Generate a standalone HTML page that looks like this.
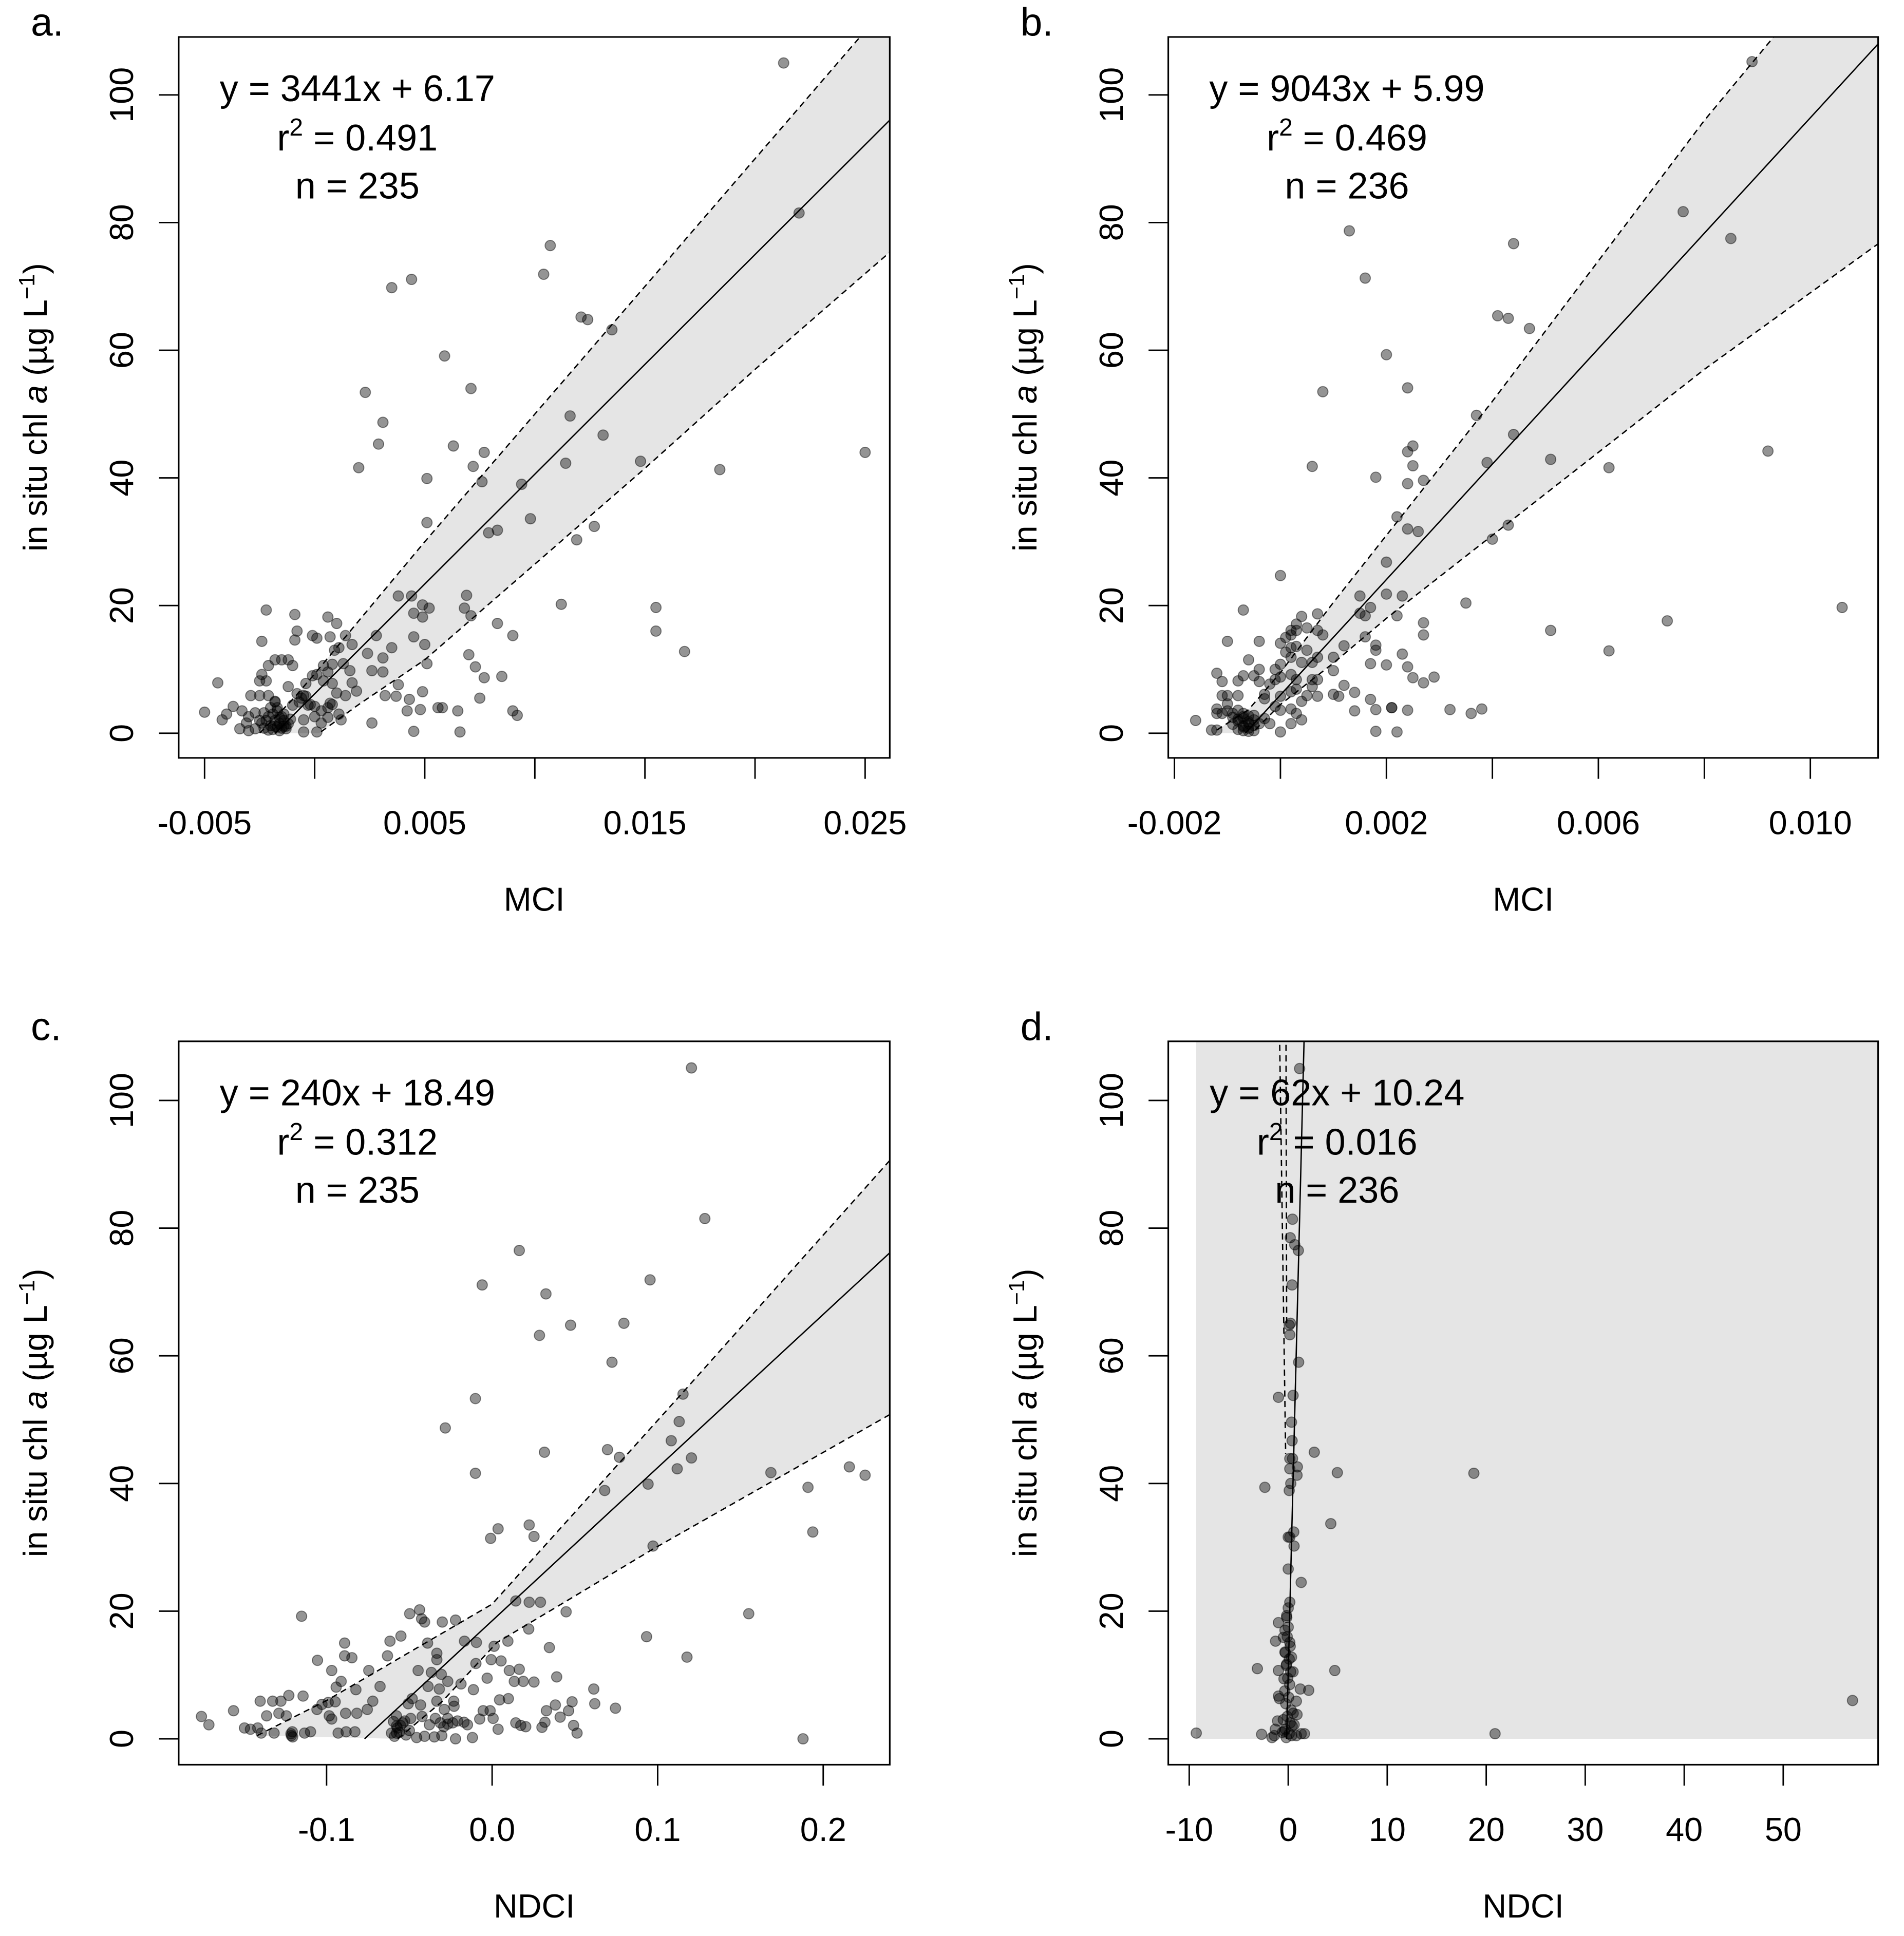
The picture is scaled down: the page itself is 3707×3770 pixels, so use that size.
<!DOCTYPE html>
<html><head><meta charset="utf-8"><style>
html,body{margin:0;padding:0;background:#fff;width:3707px;height:3770px;overflow:hidden}
svg{display:block}
text{font-family:"Liberation Sans",Arial,sans-serif;fill:#000}
</style></head><body>
<svg id="fig" xmlns="http://www.w3.org/2000/svg" width="3707" height="3770" viewBox="0 0 1545 1571" preserveAspectRatio="none" overflow="hidden">
<rect x="0" y="0" width="1545" height="1571" fill="#fff"/>
</svg>
<script>
// ---------- Panel a data (MCI vs chl a) ----------
const aX = [0.0213,0.0220,0.0250,0.0184,0.0148,0.0155,0.0155,0.0168,0.0107,0.0104,0.0121,0.0124,0.0135,0.0116,0.0131,0.0114,0.0119,0.0127,0.0112,0.0094,0.0098,0.0083,0.0079,0.0076,0.0077,0.0072,0.0071,0.0063,0.0059,0.0051,0.0051,0.0044,0.0035,0.0023,0.0031,0.0029,0.0020,0.0069,0.0068,0.0071,0.0083,0.0090,0.0085,0.0077,0.0073,0.0070,0.0075,0.0065,0.0058,0.0056,0.0066,0.0090,0.0092,0.0049,0.0051,0.0050,0.0045,0.0049,0.0052,0.0049,0.0045,0.0044,0.0038,0.0048,0.0042,0.0043,0.0045,0.0038,0.0037,0.0032,0.0035,0.0031,0.0031,0.0028,0.0026,0.0026,0.0024,0.0019,0.0017,0.0016,0.0014,0.0017,0.0010,0.0006,0.0007,0.0009,0.0011,0.0013,0.0008,0.0006,0.0004,0.0004,0.0008,0.0010,0.0014,0.0011,0.0012,0.0006,0.0007,0.0003,0.0001,0.0000,-0.0001,0.0001,0.0001,-0.0001,-0.0004,-0.0005,-0.0007,-0.0003,-0.0005,-0.0005,-0.0008,-0.0009,-0.0009,-0.0010,-0.0012,-0.0012,-0.0010,-0.0014,-0.0013,-0.0015,-0.0018,-0.0021,-0.0022,-0.0024,-0.0022,-0.0024,-0.0025,-0.0029,-0.0025,-0.0021,-0.0018,-0.0017,-0.0015,-0.0014,-0.0018,-0.0021,-0.0023,-0.0024,-0.0027,-0.0030,-0.0031,-0.0034,-0.0033,-0.0037,-0.0040,-0.0042,-0.0044,-0.0050,-0.0030,-0.0027,-0.0018,-0.0016,-0.0015,-0.0017,-0.0019,-0.0020,-0.0022,-0.0013,-0.0012,-0.0016,-0.0020,-0.0021,-0.0014,-0.0017,-0.0019,-0.0018,-0.0023,-0.0025,-0.0016,-0.0011,-0.0006,-0.0004,-0.0002,0.0000,0.0003,0.0006,-0.0008,0.0008];
const aY = [105,81.5,44,41.3,42.6,19.7,16,12.8,76.4,71.9,65.2,64.8,63.2,49.7,46.7,42.3,30.3,32.4,20.2,39,33.6,31.8,31.4,39.4,44,41.8,54,45,59.1,39.9,33,71.1,69.8,53.4,48.7,45.3,41.6,21.6,19.6,18.4,17.2,15.3,8.9,8.7,10.4,12.3,5.5,3.5,4,4,0.2,3.5,2.8,6.5,10.9,13.9,15.1,20.1,19.6,18.2,18.8,21.5,21.5,3.7,3.5,5.3,0.3,7.6,5.8,5.9,13.4,11.8,9.6,15.3,9.8,1.6,12.5,6.6,7.9,9.8,15.3,13.9,17.2,18.2,15.1,13,13.4,10.9,10.8,9.6,8.2,10.6,7.8,6.3,5.9,3,2.1,4,4.7,1.6,0.2,2.6,15.3,14.9,9.2,9,7.8,5.9,4.9,4.4,2.1,0.2,16,14.6,18.6,10.6,11.5,7.3,4.4,3,1.1,11.5,11.5,10.6,8.2,9.2,19.3,14.4,8.2,5.9,5.9,5.9,4.9,3.5,2.6,1.1,1.1,2.6,3.2,1.6,3.2,2.6,1.6,0.7,3.5,4.2,3,2.1,7.9,3.3,0.4,0.7,2,1.5,0.8,1,3,4,2,0.7,1.5,2.5,1.2,0.5,2,4,0.6,5,0.8,2,0.4,2.2,5.5,5.8,4.5,4.2,3.5,2.5,6.2,4.5];
const aSlope = 3441, aIntercept = 6.17;
const aUpX = [-0.0025,-0.001,0,0.002,0.005,0.01,0.015,0.02,0.0265];
const aUpY = [0,5.3,9.3,17.6,30,50,70,90,116];
const aLoX = [-0.0025,-0.001,0,0.002,0.005,0.01,0.015,0.02,0.0265];
const aLoY = [-6,-3,-0.5,4.5,11.5,26.5,41.5,57,76.5];
const aXTicks = [-0.005,0,0.005,0.01,0.015,0.02,0.025];
const aXTickLabels = ["-0.005","","0.005","","0.015","","0.025"];

// ---------- Panel b data ----------
const bX = [0.0089,0.0076,0.0085,0.0092,0.0106,0.0073,0.0062,0.0062,0.0051,0.0051,0.0044,0.0041,0.0043,0.0047,0.0044,0.0037,0.0039,0.0043,0.0040,0.0035,0.0032,0.0036,0.0038,0.0013,0.0016,0.0020,0.0024,0.0008,0.0006,0.0018,0.0025,0.0024,0.0025,0.0024,0.0027,0.0022,0.0024,0.0026,0.0020,0.0020,0.0023,0.0022,0.0027,0.0027,0.0015,0.0017,0.0015,0.0016,0.0016,0.0018,0.0018,0.0017,0.0020,0.0023,0.0024,0.0025,0.0027,0.0029,0.0012,0.0010,0.0011,0.0014,0.0014,0.0017,0.0018,0.0021,0.0021,0.0024,0.0018,0.0022,0.0000,0.0012,0.0010,0.0010,0.0007,0.0008,0.0007,0.0005,0.0004,0.0003,0.0003,0.0002,0.0002,0.0001,0.0000,0.0001,0.0002,0.0003,0.0005,0.0002,0.0004,0.0006,0.0007,0.0000,-0.0001,0.0000,0.0002,0.0003,0.0006,0.0007,0.0006,0.0007,0.0005,0.0004,0.0003,0.0002,0.0000,-0.0001,0.0000,0.0002,0.0003,0.0004,0.0002,0.0000,-0.0002,-0.0003,-0.0003,-0.0004,-0.0002,-0.0001,-0.0004,-0.0007,-0.0010,-0.0006,-0.0005,-0.0007,-0.0004,-0.0008,-0.0012,-0.0011,-0.0011,-0.0010,-0.0008,-0.0010,-0.0012,-0.0012,-0.0011,-0.0010,-0.0009,-0.0007,-0.0008,-0.0009,-0.0007,-0.0006,-0.0007,-0.0006,-0.0005,-0.0005,-0.0006,-0.0007,-0.0008,-0.0005,-0.0004,-0.0003,-0.0013,-0.0012,-0.0016,-0.0007,-0.0008,-0.0006,-0.0007,-0.0009,-0.0006,-0.0008,-0.0005];
const bY = [105.2,81.7,77.5,44.2,19.7,17.6,41.6,12.9,16.1,42.9,76.7,65.4,65,63.4,46.8,49.8,42.4,32.6,30.4,20.4,3.7,3.1,3.8,78.7,71.3,59.3,54.1,53.5,41.8,40.1,45,44.1,41.9,39.1,39.6,33.9,32,31.6,26.8,21.8,21.5,18.4,17.3,15.4,21.5,19.7,18.8,18.4,15.1,13.8,13,10.9,10.7,12.4,10.4,8.7,7.9,8.8,7.5,6.1,5.8,6.4,3.5,5.3,3.7,4,4,3.6,0.3,0.2,24.7,13.7,11.9,9.8,18.7,15.4,16.1,16.5,18.3,17.1,16.1,16.1,15.4,15,14.1,12.7,13.4,13.6,13,11.9,11.1,11.1,11.9,10.8,10,8.8,9.2,8.4,8.4,8.4,7.3,5.8,5.9,5,6.9,6.5,5.8,4.2,3.6,3.8,3.1,2.1,1.5,0.2,1.5,5.4,6.1,8.1,7.7,8.4,14.4,19.3,14.4,11.5,9,9,10,8.2,9.4,8.1,5.9,5.9,5.9,4.6,3.8,3.1,3.1,3.5,3.1,2.3,1.9,2.5,1.2,1.5,0.4,0.8,1.2,2.1,2.7,3.1,3.6,0.4,1.5,2.3,0.5,0.5,2,1,0.6,1.8,2.6,1.4,0.3,2.2,2.8];
const bSlope = 9043, bIntercept = 5.99;
const bUpX = [-0.0012,-0.0006,0,0.001,0.002,0.004,0.006,0.008,0.0095,0.0115];
const bUpY = [0.5,3.7,9.5,20.5,31,52,74,96,111,131];
const bLoX = [-0.0012,-0.0006,0,0.001,0.002,0.004,0.006,0.008,0.0095,0.0115];
const bLoY = [-5,-0.5,4.5,11,18,31,44,57,66,78];
const bXTicks = [-0.002,0,0.002,0.004,0.006,0.008,0.010];
const bXTickLabels = ["-0.002","","0.002","","0.006","","0.010"];

// ---------- Panel c data (NDCI) ----------
const cX = [0.1204,0.1285,0.0164,-0.006,0.0325,0.0954,0.0474,0.0796,0.0286,0.0724,-0.0101,0.1153,0.113,-0.0283,0.1082,0.1118,0.1204,0.0697,0.0316,0.0769,-0.0101,0.068,0.0942,0.1684,0.2158,0.2253,0.1908,0.1937,0.0972,-0.0009,0.0036,0.0224,0.0253,0.155,0.0933,0.1177,0.1878,0.0143,0.0224,0.0292,0.0447,-0.1151,-0.0438,-0.0426,-0.0498,-0.0408,-0.0301,-0.0221,-0.0551,-0.0617,-0.0891,-0.0891,-0.0847,-0.1055,-0.0632,-0.039,-0.0334,-0.0334,-0.0167,-0.0095,0.0012,0.0095,0.0221,0.0346,-0.0006,0.0054,-0.0098,0.0104,0.0164,0.0134,0.0188,0.0253,0.039,-0.003,-0.0113,-0.0188,-0.0268,-0.0307,-0.0367,-0.0447,-0.0319,-0.0387,-0.0969,-0.0912,-0.0942,-0.0823,-0.0745,-0.0677,-0.0721,-0.0754,-0.0817,-0.0885,-0.0984,-0.099,-0.1028,-0.0948,-0.1142,-0.1228,-0.1276,-0.1326,-0.1401,-0.1362,-0.1288,-0.1243,-0.1562,-0.1756,-0.1711,-0.1496,-0.146,-0.1416,-0.1395,-0.1317,-0.1213,-0.1207,-0.1133,-0.1097,-0.093,-0.0882,-0.0829,-0.0969,-0.1058,-0.0608,-0.0578,-0.0596,-0.0578,-0.0554,-0.0572,-0.0528,-0.0492,-0.0507,-0.0483,-0.0432,-0.0423,-0.0456,-0.0408,-0.0349,-0.0304,-0.0221,-0.0379,-0.0343,-0.0313,-0.0292,-0.0268,-0.0238,-0.023,-0.0209,-0.017,-0.0149,-0.0119,-0.0075,-0.0054,-0.0012,0.0006,0.0036,0.0045,0.0098,0.0143,0.0173,0.0203,0.0301,0.0319,0.0328,0.0382,0.0411,0.0462,0.0483,0.0492,0.0513,0.0614,0.062,0.0745,-0.0289,-0.0232,-0.0334,-0.0268,-0.0578,-0.056,-0.059,-0.052,-0.05,-0.054,-0.1215,-0.1205];
const cY = [105.1,81.5,76.5,71.1,69.7,71.9,64.8,65.1,63.2,59,53.3,54,49.7,48.7,46.7,42.3,44,45.3,44.9,44.1,41.6,38.9,39.9,41.7,42.6,41.3,39.4,32.4,30.2,31.4,32.9,33.5,31.7,19.6,16,12.8,0,21.6,21.4,21.4,19.9,19.2,20.2,18.8,19.6,18.3,18.3,18.6,16.1,15.3,15,13,12.7,12.3,13,15,13.4,12.4,15.3,15.1,14.5,15.3,17.2,14.3,12.4,12.2,11.8,10.7,10.9,9,9,8.9,9.7,9.5,7.7,8.6,9,10.1,10.4,10.7,7.8,8.2,10.7,9,8.1,7.7,10.7,8.2,5.9,4.6,4,4,3.6,5.7,5.4,5.8,6.7,6.8,5.9,5.9,5.9,3.6,4,3.6,4.4,3.5,2.2,1.7,1.5,1.7,0.9,0.9,0.5,1.1,0.9,1.1,0.9,1.1,1.1,3.1,4.6,0.9,0.9,2.7,3.6,2.1,1.7,2.8,3.2,5.5,6.3,5.3,3.5,0.2,0.4,0.3,0.5,0,2.2,3.2,2.5,1.9,3.2,2.5,5.1,2.8,2.6,2.2,0.2,3.1,4.4,4.4,3.2,1.5,6.1,6.3,2.5,2.1,1.9,1.8,2.6,4.4,5.3,3.4,4.4,5.8,2.1,0.9,7.8,5.5,4.8,4.6,5.9,5.9,2.3,2,1,0.4,0.6,1.3,2.5,0.8,0.3];
const cSlope = 240, cIntercept = 18.49;
const cUpX = [-0.142,-0.1,0,0.115,0.245];
const cUpY = [0.5,6,21.1,54.2,92];
const cLoX = [-0.057,-0.03,0.003,0.045,0.097,0.245];
const cLoY = [0,5.9,15.1,21.6,29.7,51.5];
const cXTicks = [-0.1,0,0.1,0.2];
const cXTickLabels = ["-0.1","0.0","0.1","0.2"];

// ---------- Panel d data ----------
const dX = [1.15,0.43,0.2,0.66,1.02,0.39,0.23,0.1,0.16,1.05,-0.99,0.49,0.33,0.39,2.63,0.16,0.43,0.92,0.16,4.96,18.75,0.89,0.26,0.1,-2.36,4.3,0.56,0,0.16,0.59,0,1.31,0.16,0,-0.16,-0.99,-0.33,-0.49,-1.28,0.16,-0.33,0.33,-0.16,-3.12,4.7,-0.99,0.49,-0.43,1.22,2.07,-0.99,-0.89,0.82,0.89,-1.08,-1.31,-9.29,-2.69,-1.64,-1.41,20.89,1.64,1.31,0.82,57,-0.2,0.1,-0.3,0.2,-0.1,0.3,-0.25,0.05,-0.35,0.15,-0.05,0.25,-0.2,0.1,-0.3,0.2,-0.1,0.0,-0.15,0.35,-0.4,0.4,-0.5,0.5,-0.6,0.6];
const dY = [105,81.4,78.5,77.4,76.5,71.1,65.1,64.8,63.3,59,53.5,53.8,49.6,46.7,44.9,43.9,43.9,42.6,42.3,41.7,41.6,41.3,40,38.9,39.4,33.7,32.4,31.6,31.6,30.2,26.6,24.5,21.4,20.5,19.3,18.2,17,15.9,15.3,15.1,13.6,12.8,11.7,11,10.7,10.7,10.5,9.4,7.8,7.6,6.7,6.3,5.9,3.8,2.8,1.5,0.9,0.7,0.2,0.5,0.8,0.8,0.8,0.5,6,0.2,0.8,1.5,2.5,3.5,4.5,5.5,6.5,7.5,8.5,9.5,10.5,11.5,12.5,13.5,14.5,16,17.5,19,0.5,1.2,2,3,4,1,2.2];
const dSlope = 62, dIntercept = 10.24;
const dBandX = [-9.3,60];
const dBandLo = [0,0];
const dBandHi = [115,115];
const dDash1X = [-0.89,-0.26], dDash1Y = [112,44.6];
const dDash2X = [-0.23,-0.16], dDash2Y = [112,65];
const dXTicks = [-10,0,10,20,30,40,50];
const dXTickLabels = ["-10","0","10","20","30","40","50"];

const yTicks = [0,20,40,60,80,100];

const NS = "http://www.w3.org/2000/svg";
const svg = document.getElementById("fig");
function el(tag, attrs, parent){
  const e = document.createElementNS(NS, tag);
  for (const k in attrs) e.setAttribute(k, attrs[k]);
  (parent||svg).appendChild(e);
  return e;
}
let clipId = 0;

function panel(cfg, xs, ys, slope, intercept, bandX1, bandY1, bandX2, bandY2, dashes, xt, xtl){
  const g = el("g", {});
  
  
  const sx = v => cfg.xp0 + (v - cfg.xv0) * (cfg.xp1 - cfg.xp0) / (cfg.xv1 - cfg.xv0);
  const sy = v => cfg.y0 + (cfg.y100 - cfg.y0) * v / 100;
  const ix = p => cfg.xv0 + (p - cfg.xp0) * (cfg.xv1 - cfg.xv0) / (cfg.xp1 - cfg.xp0);
  const iy = p => (p - cfg.y0) * 100 / (cfg.y100 - cfg.y0);
  const cid = "clip" + (clipId++);
  const cp = el("clipPath", {id: cid}, g);
  el("rect", {x: cfg.L, y: cfg.T, width: cfg.R - cfg.L, height: cfg.y0 - cfg.T}, cp);
  let pts = [];
  for (let i = 0; i < bandX1.length; i++) pts.push(sx(bandX1[i]).toFixed(2) + "," + sy(bandY1[i]).toFixed(2));
  for (let i = bandX2.length - 1; i >= 0; i--) pts.push(sx(bandX2[i]).toFixed(2) + "," + sy(bandY2[i]).toFixed(2));
  const band = el("polygon", {points: pts.join(" "), fill: "#e5e5e5", stroke: "none", "clip-path": "url(#" + cid + ")"}, g);
  
  
  dashes.forEach((d, k) => {
    const p = d[0].map((v, i) => sx(v).toFixed(2) + "," + sy(d[1][i]).toFixed(2)).join(" ");
    const pl = el("polyline", {points: p, fill: "none", stroke: "#000", "stroke-width": 1.1, "stroke-dasharray": "5,3.5", "clip-path": "url(#" + cid + ")"}, g);
    
    
  });
  // fit line clipped analytically to box x-range and y in [0, top]
  const xLo = ix(cfg.L), xHi = ix(cfg.R), yLo = 0, yHi = iy(cfg.T);
  let x1 = Math.max(xLo, (yLo - intercept) / slope), x2 = Math.min(xHi, (yHi - intercept) / slope);
  if (slope < 0) { x1 = Math.max(xLo, (yHi - intercept) / slope); x2 = Math.min(xHi, (yLo - intercept) / slope); }
  const fl = el("line", {x1: sx(x1), y1: sy(slope * x1 + intercept), x2: sx(x2), y2: sy(slope * x2 + intercept), stroke: "#000", "stroke-width": 1.1}, g);
  
  
  for (let i = 0; i < xs.length; i++) {
    const c = el("circle", {cx: sx(xs[i]).toFixed(2), cy: sy(ys[i]).toFixed(2), r: 4.2, fill: "#000", "fill-opacity": 0.42, stroke: "#000", "stroke-opacity": 0.45, "stroke-width": 0.8}, g);
    
    
  }
  const box = el("rect", {x: cfg.L, y: cfg.T, width: cfg.R - cfg.L, height: cfg.B - cfg.T, fill: "none", stroke: "#000", "stroke-width": 1.3}, g);
  
  
  xt.forEach((v, i) => {
    const x = sx(v);
    el("line", {x1: x, y1: cfg.B, x2: x, y2: cfg.B + 17, stroke: "#000", "stroke-width": 1.2}, g);
    if (xtl[i]) {
      const t = el("text", {x: x, y: cfg.B + 62, "text-anchor": "middle", "font-size": 27}, g);
      t.textContent = xtl[i];
      
      
    }
  });
  yTicks.forEach(v => {
    const y = sy(v);
    el("line", {x1: cfg.L, y1: y, x2: cfg.L - 16, y2: y, stroke: "#000", "stroke-width": 1.2}, g);
    const t = el("text", {x: 0, y: 0, "text-anchor": "middle", "font-size": 27, transform: "translate(" + (cfg.L - 37) + "," + y + ") rotate(-90)"}, g);
    t.textContent = String(v);
    
    
  });
  const xtit = el("text", {x: (cfg.L + cfg.R) / 2, y: cfg.B + 124, "text-anchor": "middle", "font-size": 27}, g);
  xtit.textContent = cfg.xlab;
  
  
  const cy = (cfg.T + cfg.B) / 2 + 8;
  const yt = el("text", {x: 0, y: 0, "text-anchor": "middle", "font-size": 27, transform: "translate(" + (cfg.L - 107) + "," + cy + ") rotate(-90)"}, g);
  
  
  const s1 = el("tspan", {}, yt); s1.textContent = "in situ chl ";
  const s2 = el("tspan", {"font-style": "italic"}, yt); s2.textContent = "a";
  const s3 = el("tspan", {}, yt); s3.textContent = " (\u00b5g L";
  const s4 = el("tspan", {"font-size": 18, dy: -10}, yt); s4.textContent = "\u22121";
  const s5 = el("tspan", {dy: 10}, yt); s5.textContent = ")";
  const pl = el("text", {x: cfg.L - 120, y: cfg.T - 1, "font-size": 32}, g);
  pl.textContent = cfg.id + ".";
  
  
  const ex = cfg.eqx;
  const e1 = el("text", {x: ex, y: cfg.T + 52, "text-anchor": "middle", "font-size": 30}, g);
  e1.textContent = cfg.eq;
  
  
  const e2 = el("text", {x: ex, y: cfg.T + 92, "text-anchor": "middle", "font-size": 30}, g);
  
  
  const r1 = el("tspan", {}, e2); r1.textContent = "r";
  const r2 = el("tspan", {"font-size": 20, dy: -12}, e2); r2.textContent = "2";
  const r3 = el("tspan", {dy: 12}, e2); r3.textContent = " = " + cfg.r2;
  const e3 = el("text", {x: ex, y: cfg.T + 131, "text-anchor": "middle", "font-size": 30}, g);
  e3.textContent = "n = " + cfg.n;
  
  
}

panel({id:"a", L:145, R:722, T:30, B:615, xv0:-0.005, xv1:0.025, xp0:166, xp1:702, y0:595, y100:77, xlab:"MCI", eq:"y = 3441x + 6.17", r2:"0.491", n:"235", eqx:290},
  aX, aY, aSlope, aIntercept, aUpX, aUpY, aLoX, aLoY, [[aUpX, aUpY], [aLoX, aLoY]], aXTicks, aXTickLabels);
panel({id:"b", L:948, R:1524, T:30, B:615, xv0:-0.002, xv1:0.010, xp0:953, xp1:1469, y0:595, y100:77, xlab:"MCI", eq:"y = 9043x + 5.99", r2:"0.469", n:"236", eqx:1093},
  bX, bY, bSlope, bIntercept, bUpX, bUpY, bLoX, bLoY, [[bUpX, bUpY], [bLoX, bLoY]], bXTicks, bXTickLabels);
panel({id:"c", L:145, R:722, T:845, B:1432, xv0:-0.1, xv1:0.2, xp0:265, xp1:668, y0:1411, y100:893, xlab:"NDCI", eq:"y = 240x + 18.49", r2:"0.312", n:"235", eqx:290},
  cX, cY, cSlope, cIntercept, cUpX, cUpY, cLoX, cLoY, [[cUpX, cUpY], [cLoX, cLoY]], cXTicks, cXTickLabels);
panel({id:"d", L:948, R:1524, T:845, B:1432, xv0:-10, xv1:50, xp0:965, xp1:1447, y0:1411, y100:893, xlab:"NDCI", eq:"y = 62x + 10.24", r2:"0.016", n:"236", eqx:1085},
  dX, dY, dSlope, dIntercept, dBandX, dBandHi, dBandX, dBandLo, [[dDash1X, dDash1Y], [dDash2X, dDash2Y]], dXTicks, dXTickLabels);
</script>
</body></html>
